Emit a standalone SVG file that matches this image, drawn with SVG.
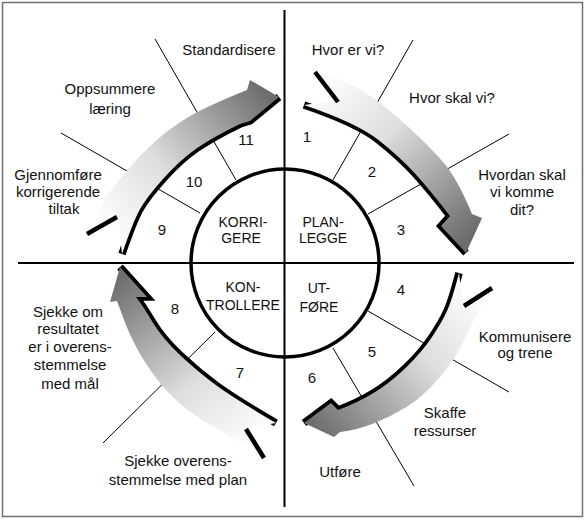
<svg xmlns="http://www.w3.org/2000/svg" width="588" height="520" viewBox="0 0 588 520">
<style>
.t{font-family:"Liberation Sans",Arial,sans-serif;font-size:15px;fill:#111;text-anchor:middle}
.c{font-family:"Liberation Sans",Arial,sans-serif;font-size:14px;fill:#111;text-anchor:middle}
.n{font-family:"Liberation Sans",Arial,sans-serif;font-size:15px;fill:#111;text-anchor:middle}
.ax{stroke:#000;stroke-width:2;fill:none}
.rad{stroke:#000;stroke-width:1;fill:none}
.sh{stroke:#000;stroke-width:7.5;fill:none;stroke-linejoin:miter}
.sl{stroke:#000;stroke-width:4.5;fill:none}
</style>
<defs>
<linearGradient id="g1" gradientUnits="userSpaceOnUse" x1="315" y1="85" x2="466" y2="240"><stop offset="0" stop-color="#fff"/><stop offset="0.4" stop-color="#dedede"/><stop offset="1" stop-color="#6c6c6c"/></linearGradient>
<linearGradient id="g2" gradientUnits="userSpaceOnUse" x1="478" y1="285" x2="310" y2="425"><stop offset="0" stop-color="#fff"/><stop offset="0.4" stop-color="#dedede"/><stop offset="1" stop-color="#6c6c6c"/></linearGradient>
<linearGradient id="g3" gradientUnits="userSpaceOnUse" x1="258" y1="442" x2="120" y2="275"><stop offset="0" stop-color="#fff"/><stop offset="0.4" stop-color="#dedede"/><stop offset="1" stop-color="#6c6c6c"/></linearGradient>
<linearGradient id="g4" gradientUnits="userSpaceOnUse" x1="105" y1="235" x2="270" y2="95"><stop offset="0" stop-color="#fff"/><stop offset="0.4" stop-color="#dedede"/><stop offset="1" stop-color="#6c6c6c"/></linearGradient>
</defs>
<rect x="2.5" y="2.5" width="580" height="514" fill="#fff" stroke="#707070" stroke-width="1.5"/>

<g id="connectors">
<line class="ax" x1="284.5" y1="10" x2="284.5" y2="507"/>
<line class="ax" x1="18" y1="263" x2="574" y2="263"/>
<line class="rad" x1="236" y1="180" x2="155" y2="39"/>
<line class="rad" x1="200" y1="213" x2="61" y2="133"/>
<line class="rad" x1="333" y1="180" x2="413" y2="40"/>
<line class="rad" x1="368" y1="214" x2="509" y2="134"/>
<line class="rad" x1="368" y1="311" x2="509" y2="392"/>
<line class="rad" x1="333" y1="348" x2="414" y2="486"/>
<line class="rad" x1="215" y1="332" x2="103" y2="443"/>
</g>

<g id="circle">
<circle cx="285" cy="263" r="94" fill="none" stroke="#000" stroke-width="3.5"/>
</g>

<g id="arrow-planlegge">
<path class="sh" d="M304,105 Q357,123 378.5,140 Q400,157 415,173.5 Q430,190 450,216 L441,226 L466,253"/>
<path fill="url(#g1)" d="M304,105 Q357,123 378.5,140 Q400,157 415,173.5 Q430,190 450,216 L441,226 L466,253 L482,218 L472,214 Q457,178 443.5,162.5 Q430,147 410,128.5 Q390,110 372.5,97.5 Q355,85 320,71 L340,100 Z"/>
<path class="sl" d="M315,72 L338,102"/>
</g>

<g id="arrow-utfore">
<path class="sh" d="M459,273 Q452,300 447,311 Q442,322 432,337 Q422,352 406,367.5 Q390,383 373.5,393 Q357,403 338,410 L331,403 L304,423"/>
<path fill="url(#g2)" d="M459,273 Q452,300 447,311 Q442,322 432,337 Q422,352 406,367.5 Q390,383 373.5,393 Q357,403 338,410 L331,403 L304,423 L334,437 L340,432 Q357,430 373.5,423.5 Q390,417 406.5,407 Q423,397 440,377 Q457,357 465,338.5 Q473,320 493,287 L463,305 Z"/>
<path class="sl" d="M464,306 L492,288"/>
</g>

<g id="arrow-kontrollere">
<path class="sh" d="M276,423 Q235,399 216.5,385.5 Q198,372 180,355 Q162,338 152.5,322 Q143,306 136,297 L147,297 L120,267"/>
<path fill="url(#g3)" d="M276,423 Q235,399 216.5,385.5 Q198,372 180,355 Q162,338 152.5,322 Q143,306 136,297 L147,297 L120,267 L110,302 L117,301 Q124,320 127,327.5 Q130,335 136.5,347.5 Q143,360 155,376.5 Q167,393 183.5,406.5 Q200,420 216.5,428.5 Q233,437 262,460 L246,428 Z"/>
<path class="sl" d="M246,429 L264,458"/>
</g>

<g id="arrow-korrigere">
<path class="sh" d="M122,254 Q133,222 139.5,210 Q146,198 163,179 Q180,160 196.5,148.5 Q213,137 240,124 L250,121 L279,97"/>
<path fill="url(#g4)" d="M122,254 Q133,222 139.5,210 Q146,198 163,179 Q180,160 196.5,148.5 Q213,137 240,124 L250,121 L279,97 L250,80 L247,90 Q207,106 188.5,117 Q170,128 155,141.5 Q140,155 127.5,170 Q115,185 107.5,195 Q100,205 88,233 L118,215 Z"/>
<path class="sl" d="M87,234 L117,217"/>
</g>

<g id="center-labels">
<text class="c" x="243" y="227">KORRI-</text>
<text class="c" x="241" y="243">GERE</text>
<text class="c" x="323" y="227">PLAN-</text>
<text class="c" x="323" y="243">LEGGE</text>
<text class="c" x="243" y="292">KON-</text>
<text class="c" x="243" y="310">TROLLERE</text>
<text class="c" x="319" y="293">UT-</text>
<text class="c" x="319" y="312">FØRE</text>
</g>

<g id="numbers">
<text class="n" x="307" y="142">1</text>
<text class="n" x="372" y="177">2</text>
<text class="n" x="401" y="235">3</text>
<text class="n" x="401" y="295">4</text>
<text class="n" x="372" y="357">5</text>
<text class="n" x="312" y="383">6</text>
<text class="n" x="240" y="378">7</text>
<text class="n" x="175" y="314">8</text>
<text class="n" x="162" y="235">9</text>
<text class="n" x="194" y="187">10</text>
<text class="n" x="246" y="145">11</text>
</g>

<g id="labels">
<text class="t" x="229" y="55">Standardisere</text>
<text class="t" x="110" y="94">Oppsummere</text>
<text class="t" x="110" y="114">læring</text>
<text class="t" x="58" y="180">Gjennomføre</text>
<text class="t" x="58" y="197">korrigerende</text>
<text class="t" x="64" y="214">tiltak</text>
<text class="t" x="348" y="55">Hvor er vi?</text>
<text class="t" x="452" y="103">Hvor skal vi?</text>
<text class="t" x="522" y="180">Hvordan skal</text>
<text class="t" x="522" y="197">vi komme</text>
<text class="t" x="522" y="215">dit?</text>
<text class="t" x="525" y="342">Kommunisere</text>
<text class="t" x="525" y="358">og trene</text>
<text class="t" x="445" y="418">Skaffe</text>
<text class="t" x="445" y="436">ressurser</text>
<text class="t" x="340" y="477">Utføre</text>
<text class="t" x="178" y="466">Sjekke overens-</text>
<text class="t" x="178" y="485">stemmelse med plan</text>
<text class="t" x="68" y="317">Sjekke om</text>
<text class="t" x="68" y="334">resultatet</text>
<text class="t" x="70" y="352">er i overens-</text>
<text class="t" x="70" y="370">stemmelse</text>
<text class="t" x="70" y="389">med mål</text>
</g>
</svg>
